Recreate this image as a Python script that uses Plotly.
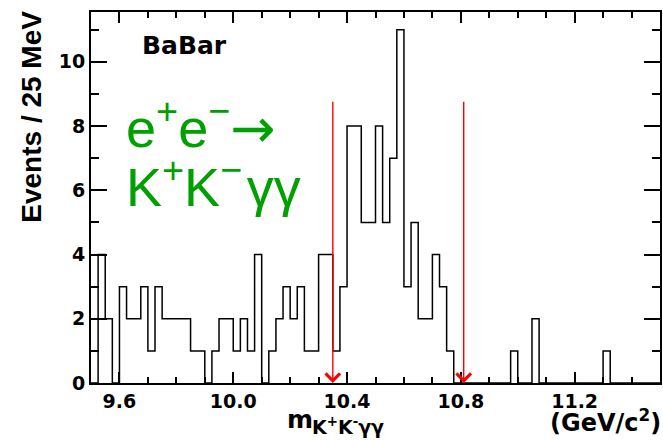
import numpy as np
import plotly.graph_objects as go

# ---- data ----
x_min, x_max = 9.5, 11.5
bin_width = 0.025
counts = [0, 4, 2, 0, 3, 2, 2, 3, 1, 3,
          2, 2, 2, 2, 1, 1, 0, 1, 2, 2,
          1, 2, 1, 4, 0, 1, 2, 3, 2, 3,
          1, 1, 4, 4, 1, 3, 8, 8, 5, 5,
          8, 5, 7, 11, 3, 5, 2, 2, 4, 3,
          1, 0, 0, 0, 0, 0, 0, 0, 0, 1,
          0, 0, 2, 0, 0, 0, 0, 0, 0, 0,
          0, 0, 1, 0, 0, 0, 0, 0, 0, 0]
cut_positions = [10.35, 10.81]
arrow_top = 8.8
y_max = 11.55
x_tickvals = [9.6, 10.0, 10.4, 10.8, 11.2]
x_ticktext = ["9.6", "10.0", "10.4", "10.8", "11.2"]
y_tickvals = [0, 2, 4, 6, 8, 10]
y_ticktext = ["0", "2", "4", "6", "8", "10"]

edges = x_min + bin_width * np.arange(len(counts) + 1)
step_y = counts + [counts[-1]]

W, H = 663, 440
ML, MR, MT, MB = 91, 1, 12, 57
PW, PH = W - ML - MR, H - MT - MB


def px(xp):
    return (xp - ML) / PW


def py(yp):
    return (H - MB - yp) / PH


fig = go.Figure()
fig.add_trace(go.Scatter(x=edges, y=step_y, mode="lines",
                         line=dict(color="black", width=1.5, shape="hv"),
                         hoverinfo="skip", showlegend=False))

annotations = []
for c in cut_positions:
    annotations.append(dict(x=c, y=0, ax=c, ay=arrow_top, xref="x", yref="y",
                            axref="x", ayref="y", text="", showarrow=True,
                            arrowhead=4, arrowsize=2.0, arrowwidth=1.4,
                            arrowcolor="red", standoff=0))

tick_font = dict(family="DejaVu Sans", size=19, color="black", weight="bold")
GS = 54
annotations += [
    dict(x=px(140.5), y=py(45.6), xref="paper", yref="paper", text="BaBar",
         showarrow=False, xanchor="left", yanchor="middle",
         font=dict(family="DejaVu Sans", size=25, color="black", weight="bold")),
    dict(x=px(124), y=py(150 + 0.212 * GS + 1), xref="paper", yref="paper",
         text="e<sup>+</sup>e<sup>\u2212</sup><span style=\"font-family:DejaVu Sans\">\u2192</span>",
         showarrow=False, xanchor="left", yanchor="bottom",
         font=dict(family="Liberation Sans", size=GS, color="#00a000")),
    dict(x=px(124), y=py(206.7 + 0.212 * GS + 1), xref="paper", yref="paper",
         text="K<sup>+</sup>K<sup>\u2212</sup><span style=\"font-family:Liberation Sans\">\u200a\u03b3\u03b3</span>",
         showarrow=False, xanchor="left", yanchor="bottom",
         font=dict(family="Liberation Sans", size=GS, color="#00a000")),
    dict(x=px(30.5), y=py(117), xref="paper", yref="paper",
         text="Events / 25 MeV", textangle=-90,
         showarrow=False, xanchor="center", yanchor="middle",
         font=dict(family="Liberation Sans", size=28, color="black", weight="bold")),
    dict(x=px(286), y=py(419.4), xref="paper", yref="paper", text="m",
         showarrow=False, xanchor="left", yanchor="middle",
         font=dict(family="DejaVu Sans", size=25, color="black", weight="bold")),
    dict(x=px(310.5), y=py(435 + 0.236 * 19 + 1), xref="paper", yref="paper",
         text="K<sup>+</sup>K<sup>-</sup>\u03b3\u03b3",
         showarrow=False, xanchor="left", yanchor="bottom",
         font=dict(family="DejaVu Sans", size=19, color="black", weight="bold")),
    dict(x=px(665), y=py(432 + 0.236 * 24 + 1), xref="paper", yref="paper",
         text="(GeV/c<sup>2</sup>)",
         showarrow=False, xanchor="right", yanchor="bottom",
         font=dict(family="DejaVu Sans", size=24, color="black", weight="bold")),
]

axis_common = dict(ticks="inside", tickwidth=1.5, tickcolor="black",
                   showline=True, linecolor="black", linewidth=2,
                   mirror="ticks", showgrid=False, zeroline=False,
                   tickfont=tick_font)

fig.update_layout(
    width=W, height=H,
    margin=dict(l=ML, r=MR, t=MT, b=MB, pad=0),
    paper_bgcolor="white", plot_bgcolor="white",
    xaxis=dict(range=[x_min, x_max], tickmode="array", tickvals=x_tickvals,
               ticktext=x_ticktext, ticklen=11,
               minor=dict(tickmode="linear", tick0=x_min, dtick=0.1,
                          ticks="inside", ticklen=6, tickwidth=1.5,
                          tickcolor="black", showgrid=False),
               **axis_common),
    yaxis=dict(range=[0, y_max], tickmode="array", tickvals=y_tickvals,
               ticktext=y_ticktext, ticklen=16,
               minor=dict(tickmode="linear", tick0=0, dtick=1,
                          ticks="inside", ticklen=8, tickwidth=1.5,
                          tickcolor="black", showgrid=False),
               **axis_common),
    annotations=annotations,
    showlegend=False,
)

fig.write_html("out.html")
